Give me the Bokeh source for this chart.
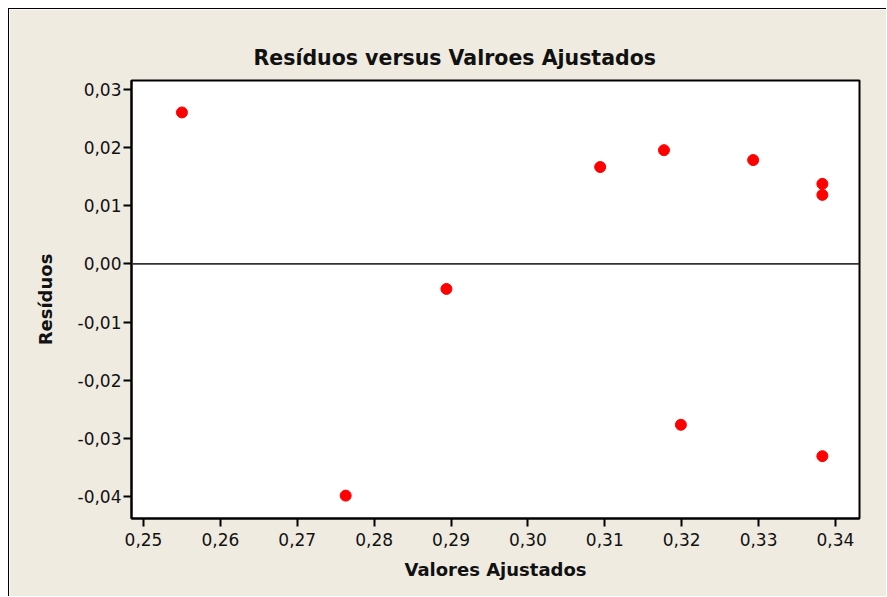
from bokeh.plotting import figure
from bokeh.models import FixedTicker, CustomJSTickFormatter, Span, Range1d
from bokeh.embed import file_html
from bokeh.resources import INLINE

# data
fitted = [0.2550, 0.2763, 0.2894, 0.3094, 0.3177, 0.3293, 0.3383, 0.3383, 0.3199, 0.3383]
residuals = [0.0261, -0.0399, -0.0043, 0.0167, 0.0196, 0.0179, 0.0138, 0.0119, -0.0277, -0.0331]

x_ticks = [0.25, 0.26, 0.27, 0.28, 0.29, 0.30, 0.31, 0.32, 0.33, 0.34]
y_ticks = [-0.04, -0.03, -0.02, -0.01, 0.00, 0.01, 0.02, 0.03]

title_text = "Resíduos versus Valroes Ajustados"
x_label = "Valores Ajustados"
y_label = "Resíduos"

BG = "#EFEBE1"
FONT = "DejaVu Sans"

p = figure(width=878, height=588, output_backend="svg", toolbar_location=None,
           x_range=Range1d(0.24844, 0.34313), y_range=Range1d(-0.04384, 0.0316),
           min_border_left=122, min_border_top=71, min_border_right=28, min_border_bottom=79)

p.background_fill_color = "white"
p.border_fill_color = BG
p.outline_line_color = "black"
p.outline_line_width = 2
p.grid.visible = False
p.styles = {"margin-left": "8px", "margin-top": "8px",
            "border-left": "1px solid black", "border-top": "1px solid black"}

p.title.text = title_text
p.title.align = "left"
p.title.offset = 122
p.title.text_font = FONT
p.title.text_font_size = "20.5px"
p.title.text_font_style = "bold"
p.title.text_color = "#111111"
p.title.standoff = 22

fmt = CustomJSTickFormatter(code="return tick.toFixed(2).replace('.', ',');")

for ax, ticks, lab in ((p.xaxis[0], x_ticks, x_label), (p.yaxis[0], y_ticks, y_label)):
    ax.ticker = FixedTicker(ticks=ticks)
    ax.formatter = fmt
    ax.minor_tick_line_color = None
    ax.major_tick_in = 0
    ax.major_tick_out = 8
    ax.major_tick_line_width = 2
    ax.major_tick_line_color = "black"
    ax.axis_line_color = "black"
    ax.axis_line_width = 2
    ax.major_label_text_font = FONT
    ax.major_label_text_font_size = "17px"
    ax.major_label_text_color = "#111111"
    ax.axis_label = lab
    ax.axis_label_text_font = FONT
    ax.axis_label_text_font_size = "18px"
    ax.axis_label_text_font_style = "bold"
    ax.axis_label_text_color = "#111111"

p.xaxis[0].major_label_standoff = 6
p.xaxis[0].axis_label_standoff = 10
p.yaxis[0].major_label_standoff = 2
p.yaxis[0].axis_label_standoff = 19

p.add_layout(Span(location=0, dimension="width", line_color="#333333", line_width=1.8))

p.scatter(fitted, residuals, marker="circle", size=11, fill_color="#FF0000",
          line_color="#FF0000")

open("out.html", "w").write(file_html(p, INLINE))
